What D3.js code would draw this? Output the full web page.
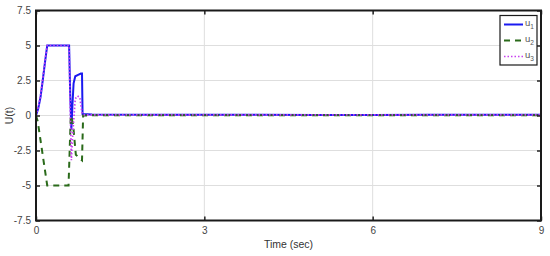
<!DOCTYPE html>
<html><head><meta charset="utf-8">
<script src="https://cdn.jsdelivr.net/npm/d3@7"></script>
<style>body{margin:0;background:#fff}svg{display:block}text{font-family:"Liberation Sans",Arial,sans-serif}</style>
</head><body>
<script>
const xTicks = [0, 3, 6, 9];
const yTicks = [-7.5, -5, -2.5, 0, 2.5, 5, 7.5];
const yTickLabels = ["-7.5", "-5", "-2.5", "0", "2.5", "5", "7.5"];
const t1 = [0, 0.04, 0.08, 0.12, 0.16, 0.2, 0.59, 0.61, 0.63, 0.65, 0.67, 0.7, 0.75, 0.8, 0.82, 0.83, 1.0, 2, 3, 4, 5, 6, 7, 8, 9];
const u1 = [0, 0.5, 1.3, 2.5, 3.8, 5, 5, 1.5, -1.0, 0.8, 2.3, 2.8, 2.9, 3.0, 3.0, 0.1, 0.08, 0.06, 0.05, 0.05, 0.04, 0.04, 0.05, 0.05, 0.05];
const t2 = [0, 0.03, 0.2, 0.58, 0.62, 0.66, 0.71, 0.76, 0.82, 0.84, 1.0, 3, 6, 9];
const u2 = [0, -0.4, -5, -5, 0, -0.6, -2.8, -3.0, -3.2, 0, 0.02, 0.02, 0.01, 0.02];
const t3 = [0, 0.04, 0.08, 0.12, 0.16, 0.2, 0.59, 0.61, 0.63, 0.66, 0.7, 0.74, 0.78, 0.82, 0.84, 1.0, 3, 6, 9];
const u3 = [0, 0.6, 1.4, 2.6, 3.9, 5, 5, 0.5, -3.2, -1.0, 1.2, 1.4, 1.3, 0.2, 0.05, 0.05, 0.04, 0.04, 0.05];
const seriesNames = ["u1", "u2", "u3"];

const W = 550, H = 256;
const m = {l: 36, r: 9, t: 10.5, b: 35.5};
const svg = d3.select("body").append("svg").attr("width", W).attr("height", H);
svg.append("rect").attr("width", W).attr("height", H).attr("fill", "#fff");

const x = d3.scaleLinear().domain([0, 9]).range([m.l, W - m.r]);
const y = d3.scaleLinear().domain([-7.5, 7.5]).range([H - m.b, m.t]);

// grid
const g = svg.append("g");
g.selectAll("line.gy").data(yTicks.slice(1, -1)).join("line")
  .attr("x1", m.l).attr("x2", W - m.r).attr("y1", d => y(d)).attr("y2", d => y(d))
  .attr("stroke", "#dedede").attr("stroke-width", 1);
g.selectAll("line.gx").data(xTicks.slice(1, -1)).join("line")
  .attr("y1", m.t).attr("y2", H - m.b).attr("x1", d => x(d)).attr("x2", d => x(d))
  .attr("stroke", "#dedede").attr("stroke-width", 1);

// lines
const series = [
  {t: t1, v: u1, color: "#1a1af0", dash: null, w: 2},
  {t: t2, v: u2, color: "#2a6a1a", dash: "6,5", w: 2},
  {t: t3, v: u3, color: "#c840f0", dash: "1.5,2", w: 1.7}
];
const line = d3.line().x(d => x(d[0])).y(d => y(d[1]));
series.forEach(s => {
  svg.append("path").datum(s.t.map((tt, k) => [tt, s.v[k]]))
    .attr("d", line).attr("fill", "none").attr("stroke", s.color)
    .attr("stroke-width", s.w).attr("stroke-dasharray", s.dash);
});

// axes
const xAxis = d3.axisBottom(x).tickValues(xTicks).tickSize(-4).tickPadding(6).tickFormat(d3.format("d"));
const yAxis = d3.axisLeft(y).tickValues(yTicks).tickSize(-4).tickPadding(5).tickFormat((d, i) => yTickLabels[i]);
const gx = svg.append("g").attr("transform", `translate(0,${H - m.b})`).call(xAxis);
const gy = svg.append("g").attr("transform", `translate(${m.l},0)`).call(yAxis);
const gy2 = svg.append("g").attr("transform", `translate(${W - m.r},0)`).call(d3.axisRight(y).tickValues(yTicks).tickSize(-4).tickFormat(""));
const gx2 = svg.append("g").attr("transform", `translate(0,${m.t})`).call(d3.axisTop(x).tickValues(xTicks).tickSize(-4).tickFormat(""));
[gx, gy, gy2, gx2].forEach(a => {
  a.select(".domain").remove();
  a.selectAll(".tick line").attr("stroke", "#222").attr("stroke-width", 1.5);
  a.selectAll("text").attr("fill", "#444").attr("font-size", 10).attr("font-family", "Liberation Sans, Arial, sans-serif");
});
svg.append("rect").attr("x", m.l).attr("y", m.t).attr("width", W - m.l - m.r).attr("height", H - m.t - m.b)
  .attr("fill", "none").attr("stroke", "#1a1a1a").attr("stroke-width", 2);

// labels
svg.append("text").attr("x", x(4.5)).attr("y", 248).attr("text-anchor", "middle")
  .attr("font-size", 10.5).attr("fill", "#333").text("Time (sec)");
svg.append("text").attr("transform", `translate(13,${y(0)}) rotate(-90)`).attr("text-anchor", "middle")
  .attr("font-size", 10.5).attr("fill", "#333").text("U(t)");

// legend
const lg = svg.append("g").attr("transform", "translate(500,15.5)");
lg.append("rect").attr("width", 37).attr("height", 49.5).attr("fill", "#fff").attr("stroke", "#1a1a1a").attr("stroke-width", 1.2);
series.forEach((s, i) => {
  const yy = 9 + i * 16;
  lg.append("line").attr("x1", 4).attr("x2", 23).attr("y1", yy).attr("y2", yy)
    .attr("stroke", s.color).attr("stroke-width", s.w).attr("stroke-dasharray", s.dash);
  const tx = lg.append("text").attr("x", 25).attr("y", yy + 1).attr("font-size", 9.5).attr("fill", "#555");
  tx.append("tspan").text(seriesNames[i][0]);
  tx.append("tspan").attr("font-size", 6.5).attr("dy", 3).text(seriesNames[i].slice(1));
});
</script>
</body></html>
